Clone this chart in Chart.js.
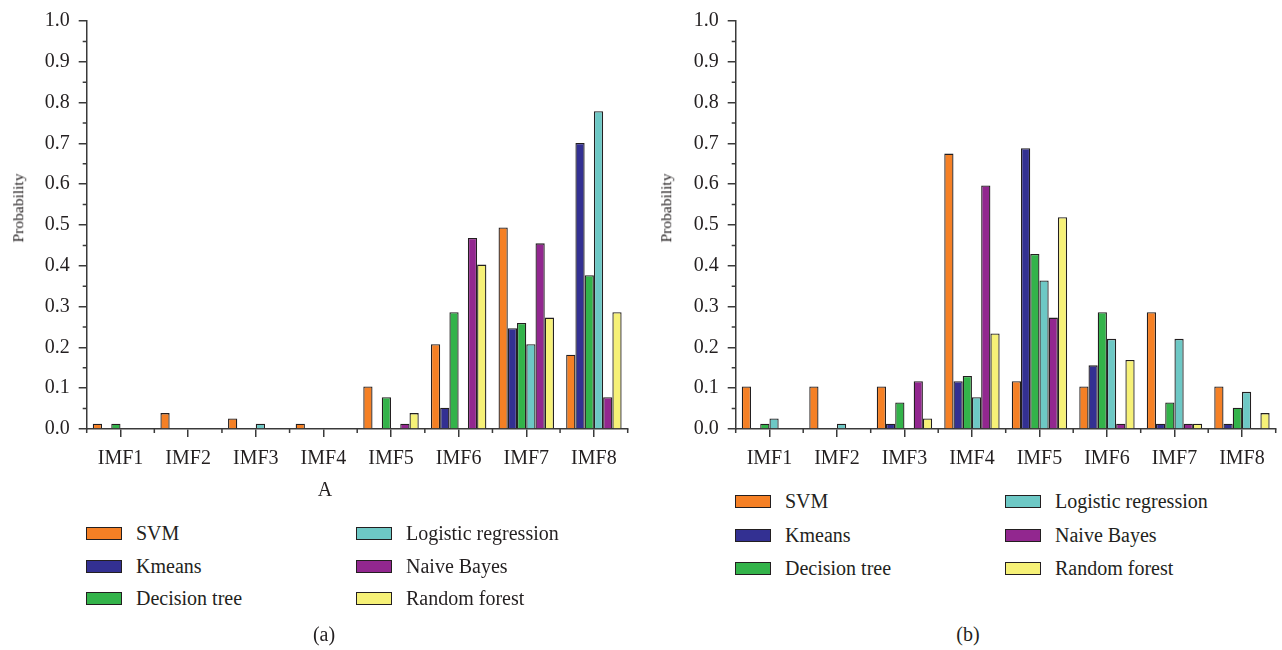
<!DOCTYPE html>
<html>
<head>
<meta charset="utf-8">
<script src="https://cdn.jsdelivr.net/npm/chart.js@4.4.0/dist/chart.umd.min.js"></script>
<style>
  body { margin: 0; background: #fff; width: 1282px; height: 650px; position: relative; overflow: hidden;
         font-family: 'Liberation Serif', 'Times New Roman', serif; color: #231f20; }
  canvas { position: absolute; top: 0; }
  .txt { position: absolute; font-size: 20px; white-space: nowrap; line-height: 1; }
  .center { transform: translate(-50%, -50%); }
  .ytitle { position: absolute; font-size: 15.5px; white-space: nowrap; line-height: 1;
            transform: translate(-50%, -50%) rotate(-90deg); }
  .swatch { position: absolute; width: 34px; height: 11px; border: 1.3px solid #231f20; }
</style>
</head>
<body>
<canvas id="chartA" width="641" height="480" style="left:0"></canvas>
<canvas id="chartB" width="641" height="480" style="left:641px"></canvas>
<div class="ytitle" style="left:18px; top:208px">Probability</div>
<div class="ytitle" style="left:666px; top:208px">Probability</div>
<div class="txt center" style="left:325px; top:489px">A</div>
<div class="txt center" style="left:324px; top:634px">(a)</div>
<div class="txt center" style="left:968px; top:634px">(b)</div>
<div id="legends"></div>
<script>
// Categories and classifier names
const categories = ['IMF1', 'IMF2', 'IMF3', 'IMF4', 'IMF5', 'IMF6', 'IMF7', 'IMF8'];
const methods = ['SVM', 'Kmeans', 'Decision tree', 'Logistic regression', 'Naive Bayes', 'Random forest'];
const methodColors = ['#f58025', '#333092', '#33b34a', '#6dc8c5', '#92278f', '#f6f177'];
const yTickLabels = ['0.0', '0.1', '0.2', '0.3', '0.4', '0.5', '0.6', '0.7', '0.8', '0.9', '1.0'];

// Panel (a)
const svmA      = [0.013, 0.039, 0.026, 0.013, 0.104, 0.208, 0.494, 0.182];
const kmeansA   = [0, 0, 0, 0, 0, 0.052, 0.247, 0.701];
const treeA     = [0.013, 0, 0, 0, 0.078, 0.286, 0.260, 0.377];
const logisticA = [0, 0, 0.013, 0, 0, 0, 0.208, 0.779];
const bayesA    = [0, 0, 0, 0, 0.013, 0.468, 0.455, 0.078];
const forestA   = [0, 0, 0, 0, 0.039, 0.403, 0.273, 0.286];

// Panel (b)
const svmB      = [0.104, 0.104, 0.104, 0.675, 0.117, 0.104, 0.286, 0.104];
const kmeansB   = [0, 0, 0.013, 0.117, 0.688, 0.156, 0.013, 0.013];
const treeB     = [0.013, 0, 0.065, 0.130, 0.429, 0.286, 0.065, 0.052];
const logisticB = [0.026, 0.013, 0, 0.078, 0.364, 0.221, 0.221, 0.091];
const bayesB    = [0, 0, 0.117, 0.597, 0.273, 0.013, 0.013, 0];
const forestB   = [0, 0, 0.026, 0.234, 0.519, 0.169, 0.013, 0.039];

const AXIS = '#3a3a3a';
const INK = '#231f20';
const FONT = "'Liberation Serif', 'Times New Roman', serif";

// Short ticks: half steps on y, category boundaries on x
const minorTicks = {
  id: 'minorTicks',
  afterDraw(chart) {
    const { ctx, chartArea, scales: { x, y } } = chart;
    ctx.save();
    ctx.strokeStyle = AXIS;
    ctx.lineWidth = 1.5;
    ctx.beginPath();
    for (let k = 0; k < 10; k++) {
      const py = y.getPixelForValue((2 * k + 1) / 20);
      ctx.moveTo(chartArea.left - 4, py);
      ctx.lineTo(chartArea.left, py);
    }
    for (let i = 0; i <= categories.length; i++) {
      const px = x.getPixelForValue(i - 0.5);
      ctx.moveTo(px, chartArea.bottom);
      ctx.lineTo(px, chartArea.bottom + 4);
    }
    ctx.stroke();
    ctx.restore();
  }
};

function buildChart(id, series, yWidth, rightPad) {
  return new Chart(document.getElementById(id), {
    type: 'bar',
    data: {
      labels: categories,
      datasets: series.map((values, i) => ({
        label: methods[i],
        data: values,
        backgroundColor: methodColors[i],
        borderColor: INK,
        borderWidth: 1.3,
        barPercentage: 1.0,
        categoryPercentage: 0.82
      }))
    },
    options: {
      responsive: false,
      animation: false,
      devicePixelRatio: 1,
      layout: { padding: { left: 0, top: 14, right: rightPad, bottom: 0 } },
      plugins: { legend: { display: false }, tooltip: { enabled: false } },
      scales: {
        x: {
          offset: true,
          grid: { offset: false, drawOnChartArea: false, drawTicks: true, tickLength: 8, color: AXIS, lineWidth: 1.5 },
          border: { display: true, color: AXIS, width: 1.5 },
          ticks: { color: INK, font: { family: FONT, size: 20 }, padding: 10, maxRotation: 0, autoSkip: false },
          afterFit: (s) => { s.height = 51; }
        },
        y: {
          min: 0,
          max: 1,
          grid: { drawOnChartArea: false, drawTicks: true, tickLength: 8, color: AXIS, lineWidth: 1.5 },
          border: { display: true, color: AXIS, width: 1.5 },
          ticks: {
            stepSize: 0.1,
            color: INK,
            font: { family: FONT, size: 20 },
            padding: 9,
            callback: (v) => yTickLabels[Math.round(v * 10)]
          },
          afterFit: (s) => { s.width = yWidth; }
        }
      }
    },
    plugins: [minorTicks]
  });
}

buildChart('chartA', [svmA, kmeansA, treeA, logisticA, bayesA, forestA], 86.7, 13.3);
buildChart('chartB', [svmB, kmeansB, treeB, logisticB, bayesB, forestB], 94.7, 6.3);

// Two-column legends below each panel
function buildLegend(axisX, rowYs) {
  const host = document.getElementById('legends');
  methods.forEach((name, i) => {
    const col = i < 3 ? 0 : 1;
    const row = i % 3;
    const x0 = axisX + col * 270;
    const y0 = rowYs[row];
    const sw = document.createElement('div');
    sw.className = 'swatch';
    sw.style.left = x0 + 'px';
    sw.style.top = (y0 - 6.5) + 'px';
    sw.style.background = methodColors[i];
    host.appendChild(sw);
    const t = document.createElement('div');
    t.className = 'txt';
    t.textContent = name;
    t.style.left = (x0 + 50) + 'px';
    t.style.top = (y0 - 10) + 'px';
    host.appendChild(t);
  });
}
buildLegend(86, [533, 566, 598]);
buildLegend(735, [501, 535, 568]);
</script>
</body>
</html>
